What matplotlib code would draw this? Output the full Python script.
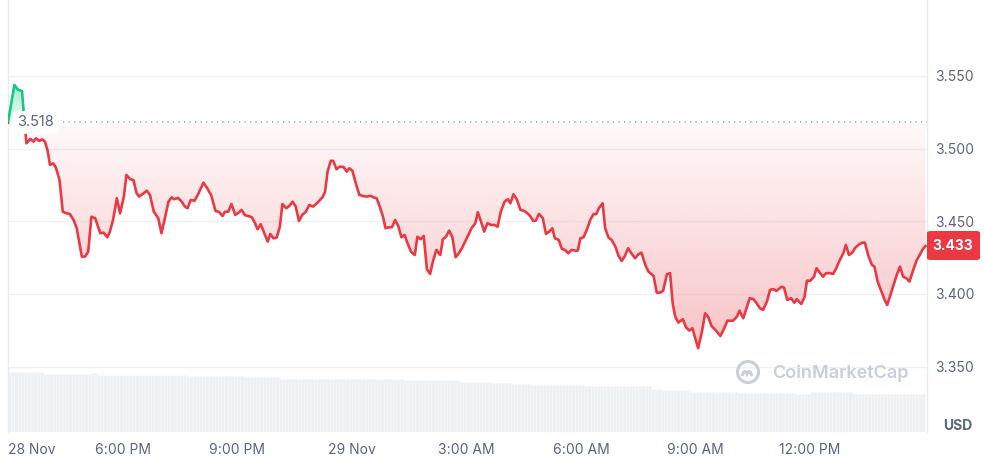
import numpy as np
import matplotlib
matplotlib.use("Agg")
import matplotlib.pyplot as plt
from matplotlib.patches import PathPatch, Rectangle, Circle, FancyBboxPatch
from matplotlib.path import Path
from matplotlib.transforms import blended_transform_factory

plt.rcParams['font.family'] = ['Inter', 'DejaVu Sans']

# minutes after 28 Nov 15:00, price in USD
minutes = [0, 10, 16, 22, 26, 29, 35, 40, 44, 49, 54, 58, 62, 66, 71, 75, 81, 86, 92, 97,
           103, 108, 116, 121, 126, 131, 137, 145, 150, 156, 160, 165, 171, 176, 182, 186, 192, 197, 202, 206,
           213, 218, 223, 229, 236, 241, 247, 252, 257, 261, 267, 273, 278, 282, 287, 293, 298, 307, 312, 319,
           326, 331, 337, 341, 346, 351, 357, 362, 367, 372, 377, 383, 388, 392, 397, 403, 408, 412, 417, 422,
           427, 431, 437, 442, 447, 452, 457, 462, 468, 473, 479, 484, 489, 494, 498, 502, 507, 511, 516, 521,
           527, 532, 536, 541, 547, 552, 558, 564, 569, 574, 579, 584, 589, 593, 598, 603, 608, 613, 618, 623,
           628, 633, 639, 643, 648, 653, 658, 663, 668, 673, 679, 683, 688, 693, 698, 703, 708, 713, 718, 723,
           728, 734, 738, 743, 748, 753, 759, 764, 769, 774, 780, 785, 789, 794, 799, 805, 810, 815, 820, 825,
           829, 834, 840, 845, 850, 855, 859, 865, 870, 875, 880, 885, 891, 895, 899, 904, 909, 915, 920, 924,
           928, 934, 938, 943, 948, 954, 959, 964, 969, 974, 980, 985, 990, 995, 1001, 1006, 1014, 1019, 1024, 1029,
           1035, 1040, 1044, 1048, 1053, 1060, 1065, 1070, 1075, 1084, 1090, 1095, 1100, 1105, 1112, 1119, 1125, 1130, 1139, 1145,
           1149, 1155, 1160, 1165, 1171, 1176, 1181, 1186, 1192, 1197, 1202, 1207, 1215, 1219, 1224, 1230, 1235, 1239, 1246, 1251,
           1255, 1260, 1266, 1270, 1275, 1280, 1285, 1291, 1296, 1301, 1306, 1312, 1316, 1321, 1326, 1331, 1337, 1342, 1346, 1351,
           1357, 1361, 1366, 1371, 1377, 1381, 1386, 1391, 1396, 1401, 1406, 1411, 1416, 1421, 1427, 1432, 1437, 1441]
price = [3.5180, 3.5438, 3.5404, 3.5397, 3.5177, 3.5037, 3.5067, 3.5048, 3.5071, 3.5053, 3.5064, 3.5048, 3.4991, 3.4888, 3.4899, 3.4872, 3.4784, 3.4566, 3.4555, 3.4551,
         3.4509, 3.4452, 3.4257, 3.4257, 3.4291, 3.4532, 3.4521, 3.4418, 3.4422, 3.4390, 3.4429, 3.4509, 3.4659, 3.4555, 3.4670, 3.4819, 3.4789, 3.4784, 3.4693, 3.4670,
         3.4693, 3.4711, 3.4681, 3.4566, 3.4521, 3.4418, 3.4532, 3.4635, 3.4665, 3.4652, 3.4661, 3.4635, 3.4601, 3.4590, 3.4647, 3.4642, 3.4681, 3.4766, 3.4734, 3.4681,
         3.4571, 3.4566, 3.4537, 3.4566, 3.4566, 3.4619, 3.4544, 3.4559, 3.4578, 3.4542, 3.4537, 3.4528, 3.4487, 3.4445, 3.4480, 3.4413, 3.4360, 3.4413, 3.4383, 3.4388,
         3.4463, 3.4619, 3.4590, 3.4606, 3.4635, 3.4601, 3.4502, 3.4544, 3.4566, 3.4612, 3.4601, 3.4619, 3.4642, 3.4665, 3.4704, 3.4842, 3.4917, 3.4915, 3.4858, 3.4876,
         3.4874, 3.4842, 3.4865, 3.4848, 3.4750, 3.4681, 3.4674, 3.4670, 3.4676, 3.4665, 3.4659, 3.4601, 3.4532, 3.4452, 3.4459, 3.4459, 3.4509, 3.4468, 3.4390, 3.4406,
         3.4344, 3.4291, 3.4268, 3.4394, 3.4376, 3.4399, 3.4170, 3.4138, 3.4234, 3.4303, 3.4268, 3.4376, 3.4394, 3.4436, 3.4390, 3.4253, 3.4280, 3.4315, 3.4360, 3.4406,
         3.4452, 3.4487, 3.4562, 3.4498, 3.4429, 3.4487, 3.4475, 3.4475, 3.4463, 3.4566, 3.4635, 3.4652, 3.4624, 3.4686, 3.4652, 3.4578, 3.4573, 3.4559, 3.4537, 3.4502,
         3.4504, 3.4551, 3.4521, 3.4413, 3.4429, 3.4452, 3.4383, 3.4372, 3.4310, 3.4303, 3.4280, 3.4303, 3.4298, 3.4298, 3.4383, 3.4390, 3.4440, 3.4514, 3.4551, 3.4549,
         3.4590, 3.4624, 3.4452, 3.4390, 3.4372, 3.4326, 3.4262, 3.4227, 3.4262, 3.4315, 3.4275, 3.4246, 3.4273, 3.4284, 3.4200, 3.4154, 3.4124, 3.4009, 3.4009, 3.4021,
         3.4136, 3.4143, 3.3936, 3.3844, 3.3803, 3.3826, 3.3771, 3.3748, 3.3764, 3.3627, 3.3741, 3.3867, 3.3840, 3.3780, 3.3748, 3.3711, 3.3764, 3.3816, 3.3816, 3.3844,
         3.3885, 3.3833, 3.3902, 3.3971, 3.3964, 3.3936, 3.3902, 3.3890, 3.3947, 3.4028, 3.4033, 3.4021, 3.4050, 3.4043, 3.3959, 3.3971, 3.3940, 3.3964, 3.3931, 3.3977,
         3.4092, 3.4090, 3.4119, 3.4177, 3.4147, 3.4119, 3.4143, 3.4143, 3.4138, 3.4177, 3.4229, 3.4280, 3.4337, 3.4268, 3.4284, 3.4319, 3.4342, 3.4353, 3.4353, 3.4268,
         3.4200, 3.4188, 3.4085, 3.4028, 3.3959, 3.3924, 3.3993, 3.4062, 3.4131, 3.4188, 3.4119, 3.4108, 3.4085, 3.4154, 3.4229, 3.4268, 3.4308, 3.4330]

open_price = 3.518
last_price = 3.433

# volume levels (relative), each holds from its start minute until the next
vol_start = [0, 53, 129, 140, 278, 368, 424, 620, 710, 757, 788, 817, 903, 1008, 1024, 1066, 1145, 1233, 1260, 1322]
vol_level = [60.3, 58.3, 59.3, 57.0, 56.0, 54.7, 53.0, 52.0, 50.3, 49.3, 48.0, 47.0, 46.0, 43.3, 42.0, 40.3, 39.3, 38.0, 39.7, 38.3]

tick_min = [0, 180, 360, 540, 720, 900, 1080, 1260]
tick_lbl = ['28 Nov', '6:00 PM', '9:00 PM', '29 Nov', '3:00 AM', '6:00 AM', '9:00 AM', '12:00 PM']
y_ticks = [3.35, 3.40, 3.45, 3.50, 3.55]

RED = '#ea3943'
GREEN = '#16c784'
GREY = '#58667e'

t = np.array(minutes, dtype=float)
p = np.array(price)

W, H = 985, 457
fig = plt.figure(figsize=(W / 100, H / 100), dpi=100)
left, right = 8 / W, 927 / W
ax_vol = fig.add_axes([left, (H - 432) / H, right - left, 60 / H], zorder=0)
ax = fig.add_axes([left, (H - 432) / H, right - left, 432 / H], zorder=1)
ax.patch.set_alpha(0)

xmax = 1443.5
ymin, ymax = 3.305, 3.6023

# volume bars
bar_t = np.arange(0, 1440, 5)
idx = np.searchsorted(vol_start, bar_t, side='right') - 1
ax_vol.bar(bar_t + 2.5, np.array(vol_level)[idx], width=5, color='#eef1f4',
           edgecolor='#f7f8fa', linewidth=0.4)
ax_vol.set_xlim(0, xmax)
ax_vol.set_ylim(0, 60)
ax_vol.axis('off')

# grid
for yv in y_ticks:
    ax.axhline(yv, color='#eff2f5', lw=1, zorder=0)


def gradient_fill(where, color, a_base, a_far, far):
    coll = ax.fill_between(t, p, open_price, where=where, interpolate=True,
                           facecolor='none', edgecolor='none')
    path = Path.make_compound_path(*coll.get_paths())
    patch = PathPatch(path, transform=ax.transData, facecolor='none', edgecolor='none')
    ax.add_patch(patch)
    rgb = matplotlib.colors.to_rgb(color)
    grad = np.zeros((256, 1, 4))
    grad[..., 0], grad[..., 1], grad[..., 2] = rgb
    lo, hi = sorted([open_price, far])
    if far < open_price:
        grad[:, 0, 3] = np.linspace(a_base, a_far, 256)
    else:
        grad[:, 0, 3] = np.linspace(a_far, a_base, 256)
    im = ax.imshow(grad, extent=[0, xmax, lo, hi], origin='upper', aspect='auto',
                   interpolation='bilinear', zorder=1)
    im.set_clip_path(patch)


gradient_fill(p <= open_price, RED, 0.03, 0.30, p.min())
gradient_fill(p >= open_price, GREEN, 0.05, 0.40, p.max())

# line coloured by side of the open price
red_line, = ax.plot(t, p, color=RED, lw=1.9, zorder=3, solid_joinstyle='round')
green_line, = ax.plot(t, p, color=GREEN, lw=1.9, zorder=3, solid_joinstyle='round')
red_line.set_clip_path(Rectangle((0, ymin), xmax, open_price - ymin, transform=ax.transData))
green_line.set_clip_path(Rectangle((0, open_price), xmax, ymax - open_price, transform=ax.transData))

# open price line + label
ax.axhline(open_price, color='#98a2b5', lw=1.1, ls=(0, (0.8, 2.8)), zorder=2)
ax.text(15, open_price, '%.3f' % open_price, color=GREY, fontsize=10.5, va='center', ha='left',
        zorder=4, bbox=dict(boxstyle='round,pad=0.3', fc='white', ec='none'))

ax.set_xlim(0, xmax)
ax.set_ylim(ymin, ymax)
ax.set_xticks([])
ax.set_yticks(y_ticks)
ax.set_yticklabels(['%.3f' % v for v in y_ticks])
ax.yaxis.tick_right()
ax.tick_params(axis='y', length=0, pad=6, labelsize=10, labelcolor=GREY)
for s in ['top', 'bottom']:
    ax.spines[s].set_visible(False)
for s in ['left', 'right']:
    ax.spines[s].set_color('#e8ebef')
    ax.spines[s].set_linewidth(1)

# x labels
tr = blended_transform_factory(ax.transData, fig.transFigure)
for i, (m, lab) in enumerate(zip(tick_min, tick_lbl)):
    ax.text(m, (H - 450) / H, lab, transform=tr, ha='left' if i == 0 else 'center',
            va='center', fontsize=10, color=GREY)

fig.text(943 / W, (H - 426) / H, 'USD', ha='left', va='center', fontsize=10,
         fontweight='bold', color=GREY)

# last price tag
tag = FancyBboxPatch((927 / W, (H - 260) / H), 53 / W, 29 / H, transform=fig.transFigure,
                     boxstyle='round,pad=0,rounding_size=0.004', fc=RED, ec='none', zorder=5)
fig.patches.append(tag)
fig.text(953 / W, (H - 246) / H, '%.3f' % last_price, ha='center', va='center', fontsize=10,
         fontweight='bold', color='white', zorder=6)

# watermark
wm = '#c8cfdb'
fig.patches.append(Circle((7.48, (H - 372) / 100), 0.105, transform=fig.dpi_scale_trans,
                          fc='none', ec=wm, lw=2.2, zorder=6))
wave = Path([(7.42, 0.81), (7.445, 0.89), (7.47, 0.83), (7.495, 0.89), (7.52, 0.81)],
            [Path.MOVETO, Path.CURVE3, Path.CURVE3, Path.CURVE3, Path.CURVE3])
fig.patches.append(PathPatch(wave, transform=fig.dpi_scale_trans, fc='none', ec=wm, lw=2.2, zorder=6))
fig.text(772 / W, (H - 373) / H, 'CoinMarketCap', ha='left', va='center', fontsize=13,
         fontweight='semibold', color=wm, zorder=6)

fig.savefig('out.png', dpi=100)
